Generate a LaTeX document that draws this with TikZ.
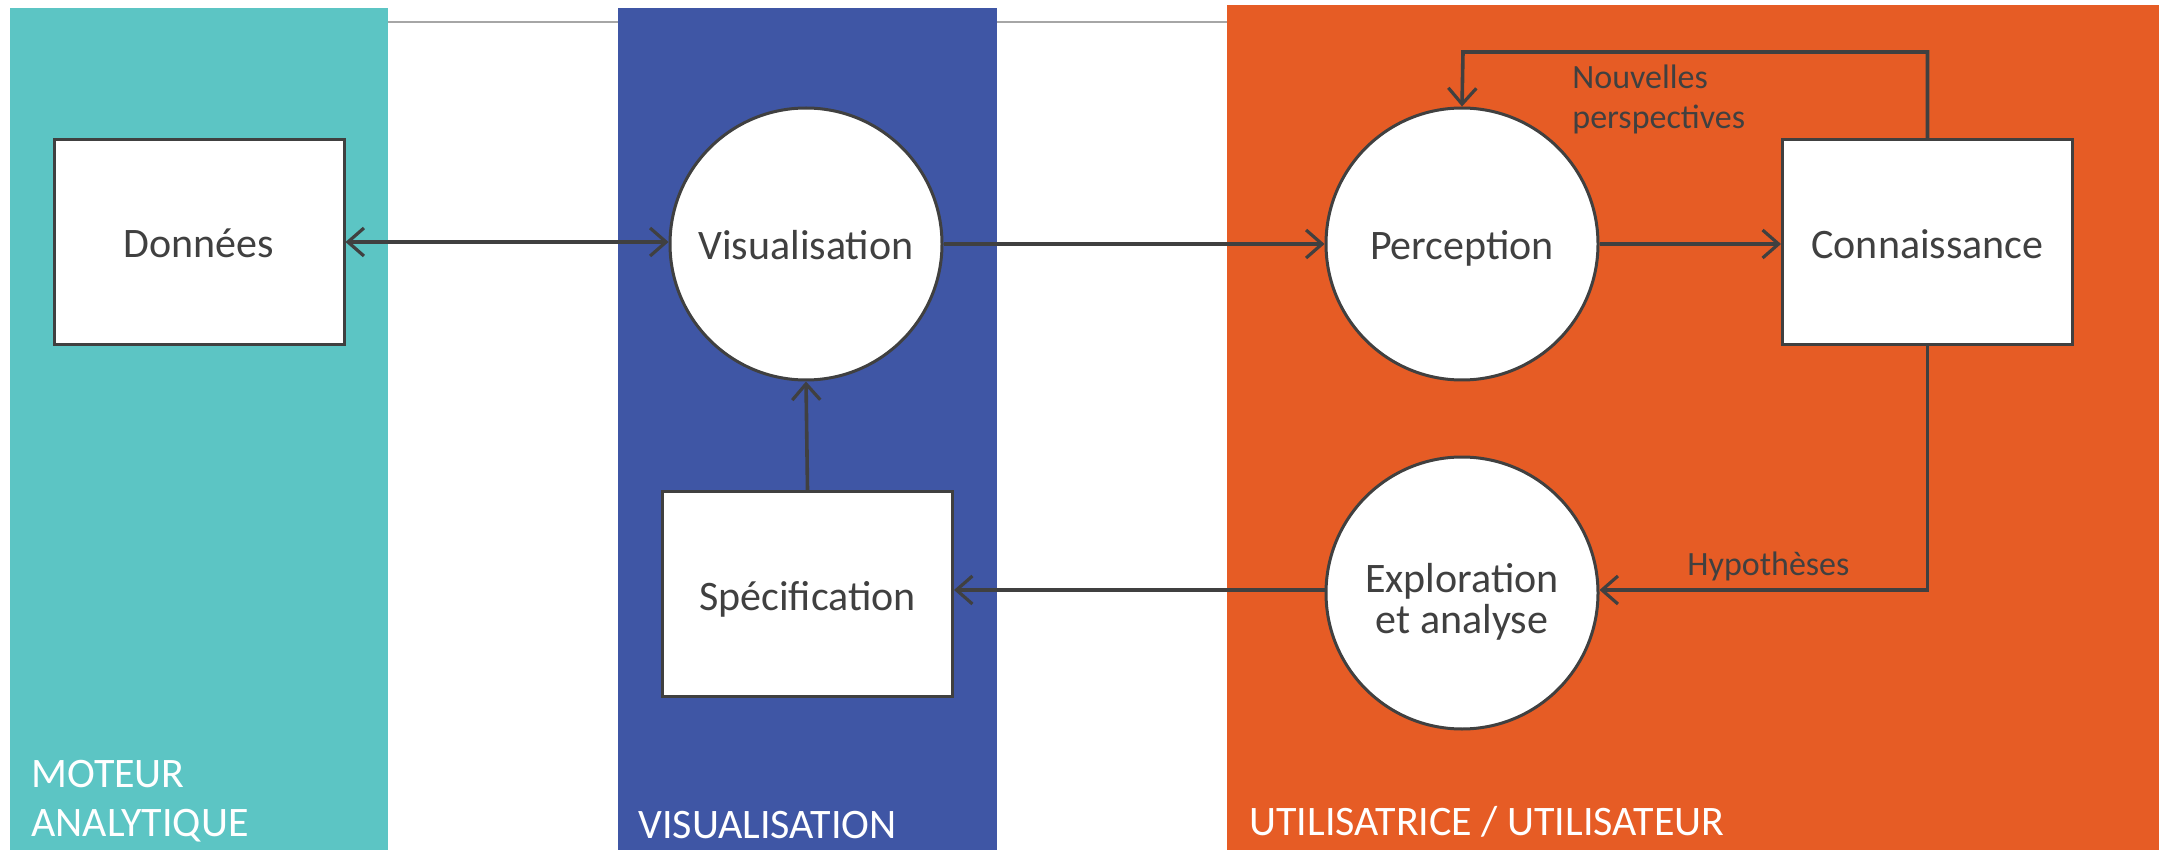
\documentclass[tikz,border=0pt]{standalone}
\usepackage{fontspec}
\setmainfont{Carlito}
\usetikzlibrary{arrows.meta}
\definecolor{teal1}{HTML}{5CC5C4}
\definecolor{blue1}{HTML}{3F56A5}
\definecolor{orange1}{HTML}{E65C25}
\definecolor{ink}{HTML}{404040}
\tikzset{
  boxnode/.style={draw=ink, fill=white, line width=1.5pt, minimum width=145pt, minimum height=102.5pt, inner sep=0pt, text=ink, font=\fontsize{21}{23}\selectfont, align=center, text height=16pt, text depth=0pt},
  circnode/.style={draw=ink, fill=white, line width=1.5pt, circle, minimum size=136pt, inner sep=0pt, text=ink, font=\fontsize{21}{23}\selectfont, align=center, text height=16pt, text depth=0pt},
  conn/.style={draw=ink, line width=1.8pt, -{Straight Barb[length=8pt,width=14pt,line width=1.6pt]}},
  lbl/.style={text=ink, font=\fontsize{17}{21}\selectfont, inner sep=0pt, anchor=base west, align=left},
  bandlbl/.style={text=white, font=\fontsize{21}{24.5}\selectfont, inner sep=0pt, anchor=base west, align=left}
}
\begin{document}
\begin{tikzpicture}[x=0.5pt, y=-0.5pt]
\useasboundingbox (0,0) rectangle (2159,850);
% top gray line
\draw[gray!70, line width=1pt] (388,22) -- (1227,22);
% bands
\fill[teal1] (10,8) rectangle (388,850);
\fill[blue1] (618,8) rectangle (997,850);
\fill[orange1] (1227,5) rectangle (2159,850);
% band labels
\node[bandlbl] (lmot) at (31,787) {MOTEUR};
\node[bandlbl] (lana) at (31,836) {ANALYTIQUE};
\node[bandlbl] (lvis) at (638,838) {VISUALISATION};
\node[bandlbl] (luti) at (1249,835) {UTILISATRICE / UTILISATEUR};
% nodes
\node[boxnode] (don) at (199,242) {Données};
\node[circnode] (vis) at (806,244) {Visualisation};
\node[circnode] (per) at (1462,244) {Perception};
\node[boxnode] (con) at (1927.5,242.5) {Connaissance};
\node[circnode, text height=40pt] (exp) at (1462,593) {Exploration\\[-2.5pt]et analyse};
\node[boxnode] (spe) at (807.5,594) {Spécification};
% connectors
\draw[conn, {Straight Barb[length=8pt,width=14pt,line width=1.6pt]}-{Straight Barb[length=8pt,width=14pt,line width=1.6pt]}] (don.east |- 0,242) -- (vis.west |- 0,242);
\draw[conn] (vis.east) -- (per.west);
\draw[conn] (per.east) -- (con.west |- per.east);
\coordinate (c1) at (1927.5,52);
\coordinate (c2) at (1463,52);
\draw[conn] (con.north) -- (c1) -- (c2) -- (per.north);
\node[lbl] (nou) at (1572,89) {Nouvelles};
\node[lbl] (persp) at (1572,129) {perspectives};
\coordinate (c3) at (1927.5,590);
\draw[conn] (con.south) -- (c3) -- (exp.east |- c3);
\node[lbl] (hyp) at (1687,575) {Hypothèses};
\draw[conn] (exp.west |- 0,590) -- (spe.east |- 0,590);
\draw[conn] (spe.north) -- (vis.south);
\end{tikzpicture}
\end{document}
